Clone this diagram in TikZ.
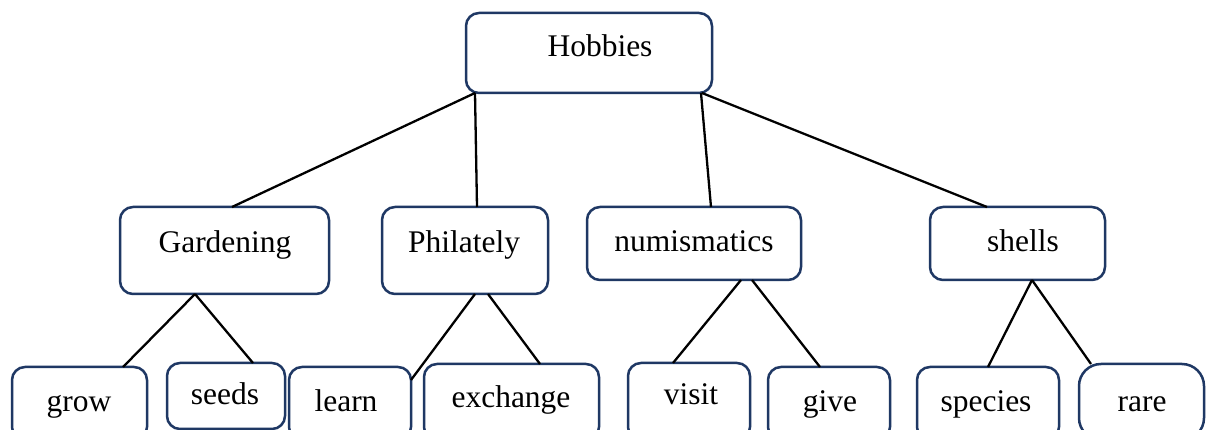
\documentclass[tikz,border=0pt]{standalone}
\usepackage{fontspec}
\setmainfont{Liberation Serif}
\definecolor{boxline}{RGB}{31,56,100}
\tikzset{
  box/.style={draw=boxline, line width=2.5pt, rounded corners=13pt, inner sep=0pt, outer sep=0pt},
  lbl/.style={anchor=base, inner sep=0pt, font=\fontsize{31.5}{36}\selectfont},
  conn/.style={draw=black, line width=2.3pt}
}
\begin{document}
\begin{tikzpicture}[x=1pt,y=-1pt]
\clip (0,0) rectangle (1211,430);
\fill[white] (0,0) rectangle (1211,430);
% boxes
\node[box, minimum width=246pt, minimum height=80pt] (h) at (589,53) {};
\node[box, minimum width=209pt, minimum height=87pt] (g) at (224.5,250.5) {};
\node[box, minimum width=166pt, minimum height=87pt] (p) at (465,250.5) {};
\node[box, minimum width=214pt, minimum height=73pt] (n) at (694,243.5) {};
\node[box, minimum width=175pt, minimum height=73pt] (s) at (1017.5,243.5) {};
\node[box, minimum width=135pt, minimum height=73pt] (gr) at (79.5,403.5) {};
\node[box, minimum width=118pt, minimum height=66pt] (se) at (226,396) {};
\node[box, minimum width=122pt, minimum height=73pt] (le) at (350,403.5) {};
\node[box, minimum width=175pt, minimum height=76pt] (ex) at (511.5,402) {};
\node[box, minimum width=122pt, minimum height=77pt] (vi) at (689,401.5) {};
\node[box, minimum width=122pt, minimum height=73pt] (gi) at (829,403.5) {};
\node[box, minimum width=142pt, minimum height=73pt] (sp) at (988,403.5) {};
\node[box, rounded corners=22pt, minimum width=125pt, minimum height=76pt] (ra) at (1141.5,402) {};
% labels
\node[lbl] (ht) at (600,57) {Hobbies};
\node[lbl] (gt) at (225,253) {Gardening};
\node[lbl] (pt) at (464,253) {Philately};
\node[lbl] (nt) at (694,252) {numismatics};
\node[lbl] (st) at (1023,252) {shells};
\node[lbl] (grt) at (79,412) {grow};
\node[lbl] (set) at (225,405) {seeds};
\node[lbl] (let) at (346,412) {learn};
\node[lbl] (ext) at (511,408) {exchange};
\node[lbl] (vit) at (691,405) {visit};
\node[lbl] (git) at (830,412) {give};
\node[lbl] (spt) at (986,412) {species};
\node[lbl] (rat) at (1142,412) {rare};
% connectors
\draw[conn] ([xshift=9pt]h.south west) -- ([xshift=112pt]g.north west);
\draw[conn] ([xshift=9pt]h.south west) -- ([xshift=95pt]p.north west);
\draw[conn] ([xshift=-11pt]h.south east) -- ([xshift=124pt]n.north west);
\draw[conn] ([xshift=-10pt]h.south east) -- ([xshift=57pt]s.north west);
\draw[conn] ([xshift=75pt]g.south west) -- ([xshift=111pt]gr.north west);
\draw[conn] ([xshift=75pt]g.south west) -- ([xshift=86pt]se.north west);
\draw[conn] ([xshift=93pt]p.south west) -- ([yshift=-13pt]le.north east);
\draw[conn] ([xshift=106pt]p.south west) -- ([xshift=116pt]ex.north west);
\draw[conn] ([xshift=154pt]n.south west) -- ([xshift=45pt]vi.north west);
\draw[conn] ([xshift=165pt]n.south west) -- ([xshift=52pt]gi.north west);
\draw[conn] ([xshift=102pt]s.south west) -- ([xshift=71pt]sp.north west);
\draw[conn] ([xshift=102pt]s.south west) -- ([xshift=12pt]ra.north west);
\end{tikzpicture}
\end{document}
